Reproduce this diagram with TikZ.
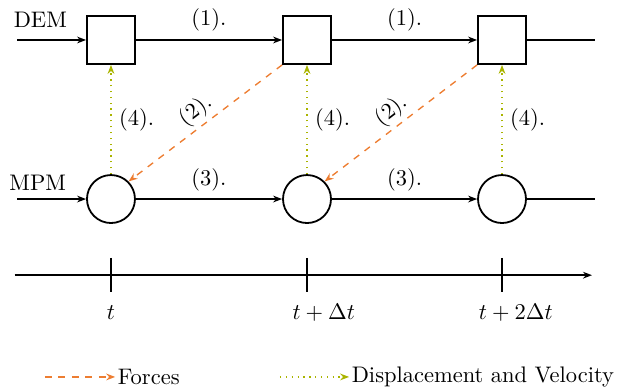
\documentclass[tikz,border=0pt]{standalone}
\usepackage{amsmath,amssymb}
\usepackage{tikz}
\usetikzlibrary{arrows.meta,positioning,shapes}
\usepackage{xcolor}
\definecolor{forceorange}{RGB}{237,125,49}
\definecolor{dispgreen}{RGB}{170,180,0}

\begin{document}
\begin{tikzpicture}[
    dembox/.style={draw, thick, minimum size=0.75cm},
    mpmcirc/.style={draw, thick, circle, minimum size=0.75cm},
    flow/.style={thick, -{Stealth[length=4pt,width=3pt]}},
    force/.style={semithick, dashed, forceorange, -{Stealth[length=4pt,width=3pt]}},
    disp/.style={semithick, dotted, dispgreen, -{Stealth[length=4pt,width=3pt]}}
]
    \useasboundingbox (0,0) rectangle (9.672,-6.094);
    % DEM row
    \node[dembox] (d1) at (1.734,-0.625) {};
    \node[dembox] (d2) at (4.797,-0.625) {};
    \node[dembox] (d3) at (7.844,-0.625) {};
    \coordinate (dstart) at (0.27,-0.625);
    \coordinate (dend) at (9.30,-0.625);
    % MPM row
    \node[mpmcirc] (m1) at (1.734,-3.11) {};
    \node[mpmcirc] (m2) at (4.797,-3.11) {};
    \node[mpmcirc] (m3) at (7.844,-3.11) {};
    \coordinate (mstart) at (0.27,-3.11);
    \coordinate (mend) at (9.30,-3.11);
    \node (demlabel) at (0.63,-0.31) {DEM};
    \node (mpmlabel) at (0.59,-2.86) {MPM};
    % horizontal steps
    \draw[flow] (dstart) -- (d1);
    \draw[flow] (d1) -- node[above] {(1).} (d2);
    \draw[flow] (d2) -- node[above] {(1).} (d3);
    \draw[thick] (d3) -- (dend);
    \draw[flow] (mstart) -- (m1);
    \draw[flow] (m1) -- node[above] {(3).} (m2);
    \draw[flow] (m2) -- node[above] {(3).} (m3);
    \draw[thick] (m3) -- (mend);
    % exchange between DEM and MPM
    \draw[force] (d2.south west) -- node[above, sloped, inner sep=1.5pt, text=black] {(2).} (m1.north east);
    \draw[force] (d3.south west) -- node[above, sloped, inner sep=1.5pt, text=black] {(2).} (m2.north east);
    \draw[disp] (m1.north) -- node[right, text=black] {(4).} (d1.south);
    \draw[disp] (m2.north) -- node[right, text=black] {(4).} (d2.south);
    \draw[disp] (m3.north) -- node[right, text=black] {(4).} (d3.south);
    % time axis
    \coordinate (tstart) at (0.23,-4.30);
    \coordinate (tend) at (9.25,-4.30);
    \draw[flow] (tstart) -- (tend);
    \draw[thick] (1.734,-4.03) -- (1.734,-4.56);
    \draw[thick] (4.797,-4.03) -- (4.797,-4.56);
    \draw[thick] (7.844,-4.03) -- (7.844,-4.56);
    \node (t0) at (1.734,-4.89) {$t$};
    \node (t1) at (5.06,-4.89) {$t+\Delta t$};
    \node (t2) at (8.06,-4.89) {$t+2\Delta t$};
    % legend
    \coordinate (fa) at (0.70,-5.89);
    \node[right=1.1cm of fa, inner sep=1pt] (forcetext) {Forces};
    \draw[force] (fa) -- (forcetext.west);
    \coordinate (da) at (4.375,-5.89);
    \node[right=1.08cm of da, inner sep=1pt] (disptext) {Displacement and Velocity};
    \draw[disp] (da) -- (disptext.west);
\end{tikzpicture}
\end{document}
